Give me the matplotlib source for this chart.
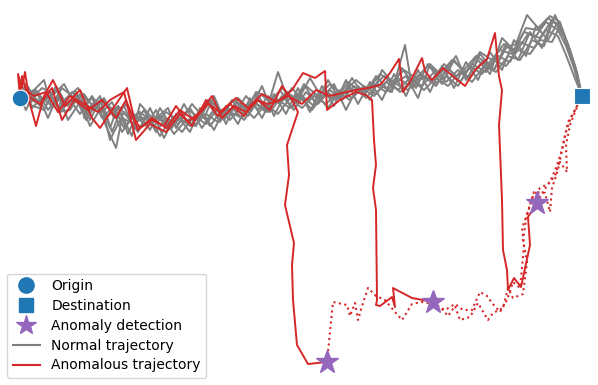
import matplotlib
matplotlib.use("Agg")
import matplotlib.pyplot as plt
from matplotlib.lines import Line2D

# Coordinates in the map's (pixel-like) frame; y grows downward
origin = (20, 98)
destination = (582, 96)
detections = [(327, 362), (433, 302), (537, 203)]

normal_1 = [(20,98),(27,88),(35,102),(30,94),(44,80),(52,108),(62,96),(58,112),(70,110),(80,94),(90,120),(100,100),(110,128),(118,106),(128,134),(138,112),(150,130),(160,108),(172,128),(184,104),(196,126),(208,102),(220,122),(232,100),(244,116),(256,92),(268,112),(280,90),(292,108),(304,84),(316,104),(328,80),(340,100),(352,78),(364,96),(376,76),(390,92),(402,68),(416,88),(428,64),(442,84),(454,60),(468,78),(480,54),(494,70),(506,44),(518,60),(530,32),(542,48),(552,20),(562,30),(570,50),(577,72),(582,96)]
normal_2 = [(20,98),(30,104),(38,92),(48,110),(58,98),(68,106),(76,92),(86,112),(96,100),(106,126),(116,148),(122,118),(134,124),(144,110),(156,132),(166,118),(178,124),(190,108),(202,128),(212,112),(224,120),(236,102),(248,116),(258,100),(270,112),(282,96),(294,110),(306,92),(318,104),(330,90),(342,100),(354,86),(366,98),(378,84),(392,92),(405,45),(412,88),(424,76),(436,86),(448,68),(460,82),(472,64),(486,72),(498,56),(510,62),(520,42),(534,48),(546,30),(558,36),(566,55),(574,76),(582,96)]
normal_3 = [(20,98),(26,84),(34,96),(42,88),(54,94),(64,84),(74,102),(84,94),(94,108),(104,98),(114,118),(126,104),(136,122),(148,116),(160,136),(170,120),(182,132),(194,116),(206,124),(218,108),(230,120),(242,106),(254,118),(266,104),(278,114),(290,98),(302,108),(314,96),(326,104),(338,92),(350,100),(362,88),(374,96),(386,82),(398,90),(410,78),(422,86),(434,72),(446,82),(458,70),(470,78),(482,62),(494,70),(506,48),(516,44),(527,15),(538,28),(548,18),(556,24),(566,40),(575,68),(582,96)]
normal_4 = [(20,98),(32,96),(40,106),(50,92),(60,112),(70,100),(80,114),(92,96),(102,112),(112,102),(124,128),(134,114),(146,126),(156,110),(168,130),(180,118),(190,126),(200,112),(210,126),(222,110),(234,116),(246,96),(258,110),(268,96),(280,104),(292,88),(304,102),(316,94),(328,108),(340,90),(352,98),(364,86),(376,94),(388,80),(400,92),(412,80),(424,90),(436,78),(448,86),(460,72),(472,82),(484,66),(496,72),(508,56),(520,60),(532,40),(544,46),(555,15),(562,30),(570,52),(577,74),(582,96)]
normal_5 = [(20,98),(28,102),(36,94),(46,100),(56,90),(66,104),(76,98),(86,120),(96,104),(108,116),(118,106),(130,120),(140,112),(152,122),(162,116),(174,134),(186,120),(198,118),(208,100),(220,114),(232,108),(244,120),(256,104),(266,112),(278,72),(288,100),(300,96),(312,110),(324,94),(336,100),(348,82),(360,92),(372,88),(384,76),(396,84),(408,90),(420,74),(432,80),(444,64),(456,76),(468,70),(480,52),(492,60),(504,44),(516,52),(528,34),(540,38),(552,20),(562,28),(569,48),(576,70),(582,96)]
normal_6 = [(20,98),(24,88),(32,108),(42,98),(52,106),(62,88),(72,96),(82,108),(92,98),(102,118),(112,108),(122,132),(132,118),(144,118),(154,126),(166,112),(178,120),(188,110),(200,118),(210,100),(222,112),(234,100),(246,108),(258,92),(270,102),(282,88),(294,98),(306,86),(318,96),(330,84),(342,94),(356,80),(368,90),(380,74),(392,82),(404,70),(416,78),(428,66),(440,74),(452,60),(464,70),(476,56),(488,64),(500,50),(512,54),(524,32),(536,36),(546,22),(558,30),(566,46),(574,68),(582,96)]
normal_7 = [(20,98),(30,94),(40,102),(50,96),(60,108),(72,92),(82,102),(94,110),(104,100),(114,112),(124,106),(134,128),(146,124),(158,118),(170,128),(182,116),(194,126),(206,114),(218,122),(230,112),(242,118),(254,102),(266,110),(278,100),(290,108),(302,96),(314,106),(326,92),(338,98),(350,88),(362,94),(374,84),(386,92),(398,78),(410,86),(422,76),(434,84),(446,76),(458,86),(470,66),(482,74),(494,60),(506,66),(518,50),(530,54),(540,40),(552,42),(560,26),(568,44),(575,66),(582,96)]
normal_8 = [(20,98),(34,90),(28,104),(44,110),(56,86),(64,100),(78,88),(88,102),(84,118),(100,96),(112,132),(120,112),(132,136),(140,104),(154,120),(168,108),(176,128),(192,104),(204,118),(214,96),(226,124),(238,98),(250,110),(262,86),(274,116),(286,92),(298,100),(310,78),(322,98),(334,84),(346,110),(358,86),(370,100),(382,70),(394,84),(406,76),(418,98),(430,64),(442,76),(456,56),(466,80),(478,60),(490,74),(502,38),(514,50),(526,28),(538,30),(550,16),(560,22),(567,44),(575,70),(582,96)]
normal_9 = [(20,98),(26,110),(36,90),(48,118),(58,94),(68,120),(80,102),(90,126),(102,106),(110,140),(124,112),(138,132),(150,108),(164,138),(176,114),(190,132),(200,108),(214,130),(226,106),(238,124),(250,98),(262,118),(274,94),(286,114),(298,88),(310,112),(322,86),(334,106),(346,80),(358,104),(370,82),(382,100),(394,74),(406,96),(418,70),(430,92),(442,66),(454,88),(466,62),(478,80),(490,52),(502,70),(514,40),(526,56),(536,26),(548,40),(558,22),(566,42),(574,66),(582,96)]
normal_trajectories = [normal_1, normal_2, normal_3, normal_4, normal_5, normal_6, normal_7, normal_8, normal_9]

anomalous_a = [(20,98),(18,74),(22,88),(25,72),(30,104),(36,126),(44,96),(53,80),(65,106),(80,90),(92,118),(100,128),(112,110),(127,88),(134,118),(140,128),(152,120),(164,126),(176,106),(188,122),(200,112),(212,96),(222,118),(234,106),(246,112),(258,100),(270,110),(282,86),(292,100),(298,112),(287,145),(289,175),(285,205),(294,243),(292,265),(293,300),(297,345),(308,364),(327,362)]
anomalous_b = [(20,98),(22,76),(26,90),(34,96),(46,92),(58,112),(70,96),(84,104),(98,112),(110,100),(124,92),(136,140),(150,124),(166,132),(180,114),(192,126),(206,100),(218,116),(230,104),(244,116),(256,100),(268,104),(280,100),(292,90),(303,73),(315,78),(325,71),(327,110),(340,100),(356,92),(366,95),(372,100),(374,140),(376,165),(373,188),(376,210),(377,300),(376,305),(380,306),(392,297),(395,307),(393,288),(412,298),(423,300),(433,302)]
anomalous_c = [(20,98),(28,96),(40,104),(52,88),(62,120),(74,100),(88,110),(102,100),(116,118),(126,100),(138,130),(152,118),(166,128),(180,110),(194,120),(208,104),(220,112),(236,98),(248,108),(262,94),(276,102),(288,96),(302,104),(316,90),(330,96),(342,93),(356,90),(368,88),(380,85),(390,73),(399,59),(403,92),(410,82),(422,58),(425,71),(432,80),(443,68),(455,78),(465,86),(475,70),(487,59),(495,33),(499,76),(502,90),(499,125),(502,200),(503,250),(507,270),(508,290),(514,278),(521,287),(530,245),(528,217),(537,203)]
anomalous_trajectories = [anomalous_a, anomalous_b, anomalous_c]

after_detection_a = [(327,362),(333,302),(347,305),(350,316),(355,303),(358,320),(362,306),(368,288),(376,296),(385,300),(395,312),(402,320),(412,304),(422,302),(433,304),(445,310),(455,304),(463,310),(472,310),(480,292),(487,296),(492,303),(500,312),(507,300),(513,282),(520,288),(522,268),(524,245),(522,228),(528,212),(534,192),(545,193),(550,212),(552,188),(556,176),(560,162),(567,172),(566,145),(570,125),(575,112),(580,100)]
after_detection_b = [(433,302),(443,310),(448,316),(455,306),(460,320),(470,317),(478,303),(488,320),(493,313),(503,308),(508,288),(513,298),(523,294),(527,262),(523,240),(527,214),(533,196),(540,188),(548,184),(555,176),(560,160),(564,140),(568,122),(574,112),(580,100)]
after_detection_c = [(537,203),(544,190),(550,182),(556,168),(562,150),(566,132),(570,120),(576,108),(580,100)]
after_detection = [after_detection_a, after_detection_b, after_detection_c]

GRAY = "#808080"
RED = "#d62728"
BLUE = "#1f77b4"
PURPLE = "#9467bd"

fig = plt.figure(figsize=(5.98, 3.85), dpi=100)
ax = fig.add_axes([0, 0, 1, 1])
ax.set_xlim(0, 598)
ax.set_ylim(385, 0)
ax.axis("off")

for tr in normal_trajectories:
    xs, ys = zip(*tr)
    ax.plot(xs, ys, color=GRAY, lw=1.4, zorder=2)
for tr in anomalous_trajectories:
    xs, ys = zip(*tr)
    ax.plot(xs, ys, color=RED, lw=1.4, zorder=3)
for tr in after_detection:
    xs, ys = zip(*tr)
    ax.plot(xs, ys, color=RED, lw=1.5, ls=":", zorder=3)

ax.plot(*origin, marker="o", ms=12, color=BLUE, mec="white", mew=0.8, ls="none", zorder=5)
ax.plot(*destination, marker="s", ms=11, color=BLUE, mec="white", mew=0.8, ls="none", zorder=5)
for d in detections:
    ax.plot(*d, marker="*", ms=17, color=PURPLE, ls="none", zorder=6)

handles = [
    Line2D([], [], marker="o", ms=11, color=BLUE, ls="none"),
    Line2D([], [], marker="s", ms=10, color=BLUE, ls="none"),
    Line2D([], [], marker="*", ms=15, color=PURPLE, ls="none"),
    Line2D([], [], color=GRAY, lw=1.5),
    Line2D([], [], color=RED, lw=1.5),
]
labels = ["Origin", "Destination", "Anomaly detection", "Normal trajectory", "Anomalous trajectory"]
ax.legend(handles, labels, loc="lower left", fontsize=10, frameon=True,
          borderaxespad=0.5, labelspacing=0.42)

fig.savefig("out.png", dpi=100)
